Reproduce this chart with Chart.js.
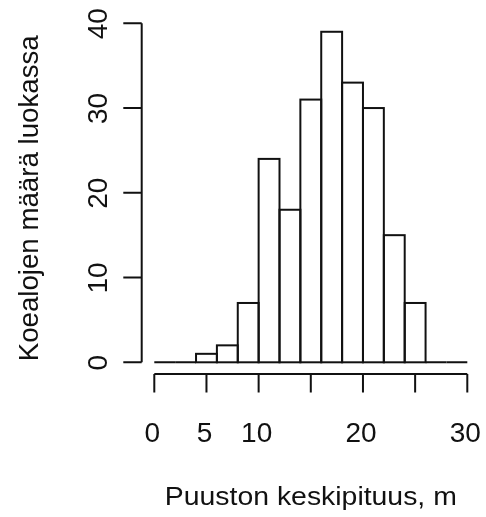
<!DOCTYPE html>
<html><head><meta charset="utf-8">
<script src="https://cdn.jsdelivr.net/npm/chart.js@4/dist/chart.umd.min.js"></script>
<style>html,body{margin:0;padding:0;background:#fff;} canvas{display:block;}</style>
</head><body>
<canvas id="c" width="486" height="517"></canvas>
<script>
// ---- data ----
const binEdges = [0,2,4,6,8,10,12,14,16,18,20,22,24,26,28,30];
const counts = [0,0,1,2,7,24,18,31,39,33,30,15,7,0,0];
const xTicks = [0,5,10,15,20,25,30];
const xTickLabels = ['0','5','10','','20','','30'];
const yTicks = [0,10,20,30,40];
const yTickLabels = ['0','10','20','30','40'];
const xTitle = 'Puuston keskipituus, m';
const yTitle = 'Koealojen määrä luokassa';

const FONT = '"Liberation Sans", Arial, Helvetica, sans-serif';
const INK = '#111';

const points = counts.map((c, i) => ({ x: (binEdges[i] + binEdges[i + 1]) / 2, y: c }));

function drawText(ctx, text, x, y, size, rot, targetWidth) {
  ctx.save();
  ctx.font = size + 'px ' + FONT;
  ctx.translate(x, y);
  ctx.rotate(rot);
  let sx = 1;
  if (targetWidth) sx = targetWidth / ctx.measureText(text).width;
  ctx.scale(sx, 1);
  ctx.textAlign = 'center';
  ctx.textBaseline = 'alphabetic';
  ctx.fillStyle = INK;
  ctx.fillText(text, 0, 0);
  ctx.restore();
}

const rAxes = {
  id: 'rAxes',
  afterDatasetsDraw(chart) {
    const ctx = chart.ctx;
    const xs = chart.scales.x, ys = chart.scales.y, a = chart.chartArea;
    ctx.save();
    ctx.strokeStyle = INK;
    ctx.lineWidth = 2;
    // histogram rectangles
    const meta = chart.getDatasetMeta(0);
    meta.data.forEach(el => {
      const p = el.getProps(['x', 'y', 'base', 'width'], true);
      ctx.strokeRect(p.x - p.width / 2, p.y, p.width, p.base - p.y);
    });
    // y axis
    const yAxX = a.left - 12.6, tl = 18.4;
    ctx.beginPath();
    ctx.moveTo(yAxX, ys.getPixelForValue(yTicks[0]));
    ctx.lineTo(yAxX, ys.getPixelForValue(yTicks[yTicks.length - 1]));
    yTicks.forEach(v => {
      const py = ys.getPixelForValue(v);
      ctx.moveTo(yAxX, py);
      ctx.lineTo(yAxX - tl, py);
    });
    ctx.stroke();
    // x axis
    const xAxY = a.bottom + 11.7;
    ctx.beginPath();
    ctx.moveTo(xs.getPixelForValue(xTicks[0]), xAxY);
    ctx.lineTo(xs.getPixelForValue(xTicks[xTicks.length - 1]), xAxY);
    xTicks.forEach(v => {
      const px = xs.getPixelForValue(v);
      ctx.moveTo(px, xAxY);
      ctx.lineTo(px, xAxY + tl);
    });
    ctx.stroke();
    ctx.restore();
    // tick labels
    xTicks.forEach((v, i) => {
      if (xTickLabels[i]) drawText(ctx, xTickLabels[i], xs.getPixelForValue(v) - 2, 441.5, 28, 0);
    });
    yTicks.forEach((v, i) => {
      drawText(ctx, yTickLabels[i], 106.5, ys.getPixelForValue(v) + 0.4, 28, -Math.PI / 2);
    });
    // titles
    drawText(ctx, xTitle, (a.left + a.right) / 2, 504.5, 26, 0, 292);
    drawText(ctx, yTitle, 38.3, 198.3, 27, -Math.PI / 2, 326);
  }
};

new Chart(document.getElementById('c'), {
  type: 'bar',
  data: {
    datasets: [{
      data: points,
      backgroundColor: '#ffffff',
      borderWidth: 0,
      barPercentage: 1,
      categoryPercentage: 1
    }]
  },
  options: {
    responsive: false,
    animation: false,
    events: [],
    layout: { padding: { left: 154.3, right: 18.7, top: 23.3, bottom: 154.7 } },
    plugins: { legend: { display: false }, tooltip: { enabled: false } },
    scales: {
      x: { type: 'linear', min: 0, max: 30, offset: false, display: false },
      y: { type: 'linear', min: 0, max: 40, display: false }
    }
  },
  plugins: [rAxes]
});
</script>
</body></html>
